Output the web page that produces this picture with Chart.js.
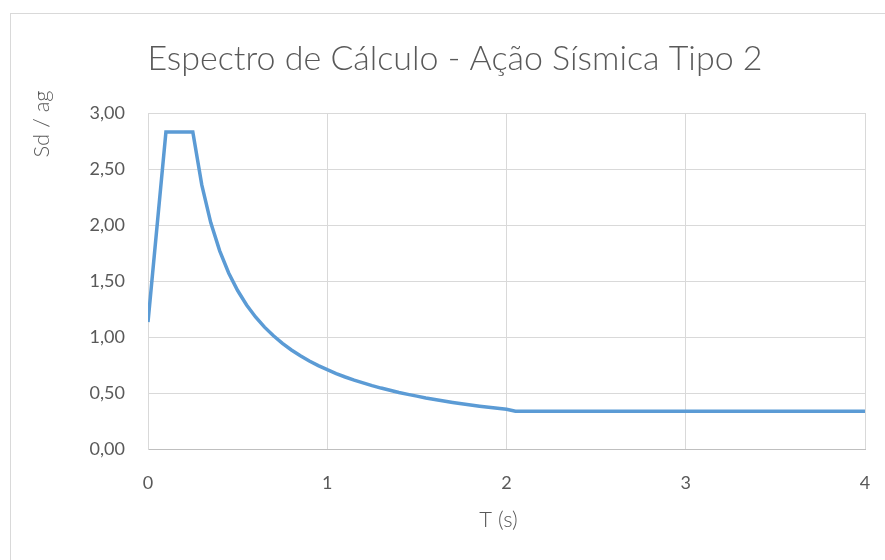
<!DOCTYPE html>
<html>
<head>
<meta charset="utf-8">
<script src="https://cdn.jsdelivr.net/npm/chart.js@4/dist/chart.umd.min.js"></script>
<style>
  html, body { margin: 0; padding: 0; background: #ffffff; }
  #wrap { width: 885px; height: 560px; position: relative; }
</style>
</head>
<body>
<div id="wrap"><canvas id="c" width="885" height="560"></canvas></div>
<script>
// Design spectrum, seismic action type 2: period T (s) and normalised Sd / ag
const periods = [
  0, 0.10, 0.25, 0.30, 0.35, 0.40, 0.45, 0.50, 0.55, 0.60, 0.65, 0.70, 0.75,
  0.80, 0.85, 0.90, 0.95, 1.00, 1.05, 1.10, 1.15, 1.20, 1.25, 1.30, 1.35,
  1.40, 1.45, 1.50, 1.55, 1.60, 1.65, 1.70, 1.75, 1.80, 1.85, 1.90, 1.95,
  2.00, 2.05, 2.50, 3.00, 3.50, 4.00
];
const sdOverAg = [
  1.133, 2.830, 2.830, 2.358, 2.021, 1.769, 1.572, 1.415, 1.286, 1.179, 1.088, 1.011, 0.943,
  0.884, 0.832, 0.786, 0.745, 0.708, 0.674, 0.643, 0.615, 0.590, 0.566, 0.544, 0.524,
  0.505, 0.488, 0.472, 0.456, 0.442, 0.429, 0.416, 0.404, 0.393, 0.382, 0.372, 0.363,
  0.354, 0.337, 0.337, 0.337, 0.337, 0.337
];
const xTicks = [0, 1, 2, 3, 4];
const yTicks = [0, 0.5, 1, 1.5, 2, 2.5, 3];

const chartTitle = 'Espectro de Cálculo - Ação Sísmica Tipo 2';
const xTitle = 'T (s)';
const yTitle = 'Sd / ag';

const FONT = "Lato, 'Open Sans', 'Noto Sans', sans-serif";
const TEXT = '#595959';
const GRID = '#d9d9d9';

const points = periods.map((t, i) => ({ x: t, y: sdOverAg[i] }));

// Frame, chart title and axis titles
const decorations = {
  id: 'decorations',
  beforeDraw(chart) {
    const ctx = chart.ctx;
    ctx.save();
    ctx.fillStyle = '#ffffff';
    ctx.fillRect(0, 0, chart.width, chart.height);
    ctx.strokeStyle = GRID;
    ctx.lineWidth = 1;
    ctx.strokeRect(10.5, 13.5, 1000, 1000);
    ctx.restore();
  },
  afterDraw(chart) {
    const ctx = chart.ctx;
    const area = chart.chartArea;
    ctx.save();
    ctx.fillStyle = TEXT;
    ctx.textAlign = 'center';
    ctx.textBaseline = 'alphabetic';
    ctx.font = "300 34px " + FONT;
    ctx.fillText(chartTitle, 455, 70);

    ctx.font = "300 22px " + FONT;
    ctx.textBaseline = 'middle';
    ctx.fillText(xTitle, (area.left + area.right) / 2 - 8, 520);

    ctx.translate(42, 124);
    ctx.rotate(-Math.PI / 2);
    ctx.fillText(yTitle, 0, 0);
    ctx.restore();
  }
};

new Chart(document.getElementById('c'), {
  type: 'line',
  data: {
    datasets: [{
      data: points,
      borderColor: '#5B9BD5',
      borderWidth: 3.5,
      pointRadius: 0,
      pointHoverRadius: 0,
      tension: 0,
      fill: false
    }]
  },
  options: {
    responsive: false,
    animation: false,
    events: [],
    layout: { padding: { left: 0, top: 113, right: 20, bottom: 0 } },
    plugins: {
      legend: { display: false },
      tooltip: { enabled: false },
      title: { display: false }
    },
    scales: {
      x: {
        type: 'linear',
        min: 0,
        max: 4,
        afterBuildTicks(scale) { scale.ticks = xTicks.map(v => ({ value: v })); },
        afterFit(scale) {
          scale.height = 111;
          scale.paddingLeft = 0;
          scale.paddingRight = 0;
        },
        grid: { color: GRID, lineWidth: 1, drawTicks: false },
        border: { color: '#bfbfbf', width: 1 },
        ticks: {
          color: TEXT,
          padding: 23,
          font: { family: FONT, size: 18, weight: '400' },
          maxRotation: 0,
          callback: v => String(v)
        }
      },
      y: {
        type: 'linear',
        min: 0,
        max: 3,
        afterBuildTicks(scale) { scale.ticks = yTicks.map(v => ({ value: v })); },
        afterFit(scale) {
          scale.width = 148;
          scale.paddingTop = 0;
          scale.paddingBottom = 0;
        },
        grid: { color: GRID, lineWidth: 1, drawTicks: false },
        border: { color: GRID, width: 1 },
        ticks: {
          color: TEXT,
          padding: 23,
          font: { family: FONT, size: 18, weight: '400' },
          callback: v => v.toFixed(2).replace('.', ',')
        }
      }
    }
  },
  plugins: [decorations]
});
</script>
</body>
</html>
